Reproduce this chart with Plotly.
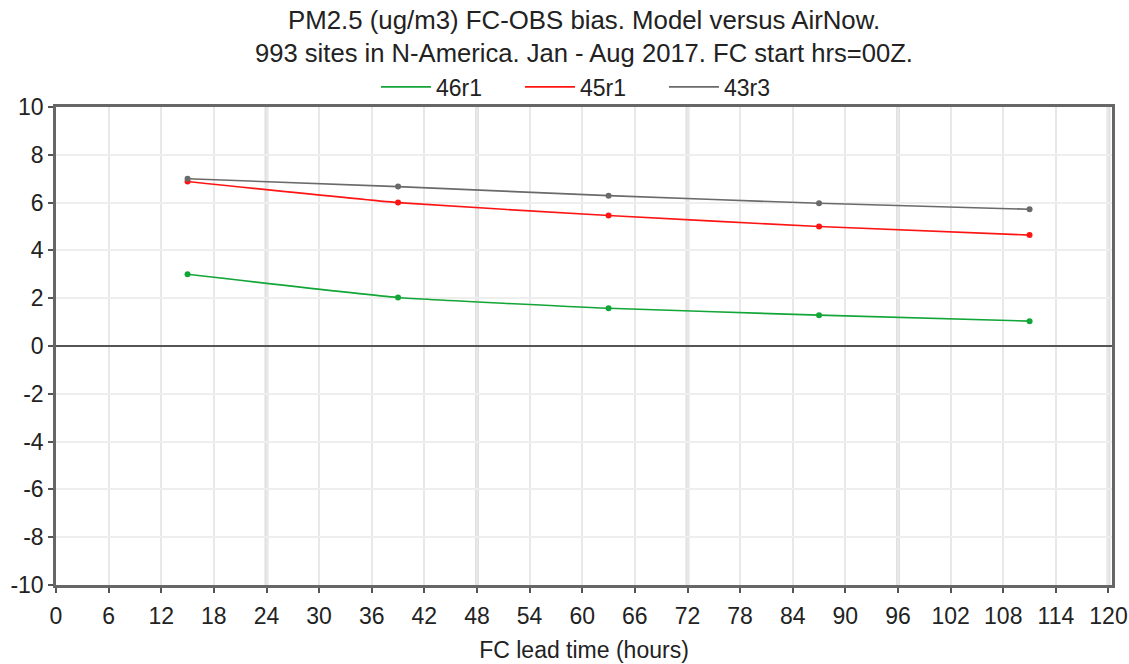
import plotly.graph_objects as go

lead_hours = [15, 39, 63, 87, 111]
series_names = ["46r1", "45r1", "43r3"]
bias_46r1 = [3.0, 2.03, 1.58, 1.29, 1.04]
bias_45r1 = [6.88, 6.0, 5.46, 5.0, 4.64]
bias_43r3 = [7.0, 6.67, 6.29, 5.97, 5.72]
series_colors = ["#12a537", "#ff1414", "#6a6a6a"]
x_ticks = list(range(0, 121, 6))
y_ticks = list(range(-10, 11, 2))
y_tick_labels = [str(v) for v in y_ticks]
title_lines = ["PM2.5 (ug/m3) FC-OBS bias. Model versus AirNow.",
               "993 sites in N-America. Jan - Aug 2017. FC start hrs=00Z."]
x_title = "FC lead time (hours)"

FONT = "Liberation Sans, Arial, sans-serif"
fig = go.Figure()
for name, vals, col in zip(series_names, [bias_46r1, bias_45r1, bias_43r3], series_colors):
    fig.add_trace(go.Scatter(
        x=lead_hours, y=vals, name=name, mode="lines",
        line=dict(color=col, width=1.6, shape="spline", smoothing=0.4),
        legendgroup=name,
    ))
    fig.add_trace(go.Scatter(
        x=lead_hours, y=vals, name=name, mode="markers",
        marker=dict(color=col, size=6), showlegend=False, legendgroup=name,
    ))

shapes = []
for h in range(24, 121, 24):
    shapes.append(dict(type="line", xref="x", yref="paper", x0=h, x1=h, y0=0, y1=1,
                       line=dict(color="#e0e0e0", width=4), layer="below"))

fig.update_layout(
    width=1129, height=664,
    margin=dict(l=56, r=17, t=107, b=79, autoexpand=False),
    paper_bgcolor="white", plot_bgcolor="white",
    font=dict(family=FONT, size=23, color="#222222"),
    showlegend=True,
    legend=dict(orientation="h", x=0.303, xanchor="left", y=1.042, yanchor="middle",
                font=dict(size=23, color="#222222"), itemwidth=50,
                entrywidth=79, entrywidthmode="pixels",
                bgcolor="rgba(0,0,0,0)", traceorder="normal"),
    shapes=shapes,
    annotations=[
        dict(text=title_lines[0], xref="paper", yref="paper", x=0.5, y=1.182,
             xanchor="center", yanchor="middle", showarrow=False, font=dict(size=25.8)),
        dict(text=title_lines[1], xref="paper", yref="paper", x=0.5, y=1.113,
             xanchor="center", yanchor="middle", showarrow=False, font=dict(size=25.6)),
    ],
)
fig.update_xaxes(
    range=[0, 120.4], tickvals=x_ticks, ticks="outside", ticklen=5, tickwidth=2,
    tickcolor="#555555", showline=True, linecolor="#666666", linewidth=2.5, mirror=True,
    showgrid=True, gridcolor="#e8e8e8", gridwidth=1.5, zeroline=False,
    title=dict(text=x_title, font=dict(size=23), standoff=14),
    tickfont=dict(size=23), automargin=False, ticklabelstandoff=4,
)
fig.update_yaxes(
    range=[-10, 10], tickvals=y_ticks, ticktext=y_tick_labels, ticks="outside", ticklen=5,
    tickwidth=2, tickcolor="#555555", showline=True, linecolor="#666666", linewidth=2.5,
    mirror=True, showgrid=True, gridcolor="#eeeeee", gridwidth=2, zeroline=True,
    zerolinecolor="#555555", zerolinewidth=2, tickfont=dict(size=23), automargin=False,
)
fig.write_html("out.html", config={"displayModeBar": False},
               post_script="document.body.style.margin='0px';")
